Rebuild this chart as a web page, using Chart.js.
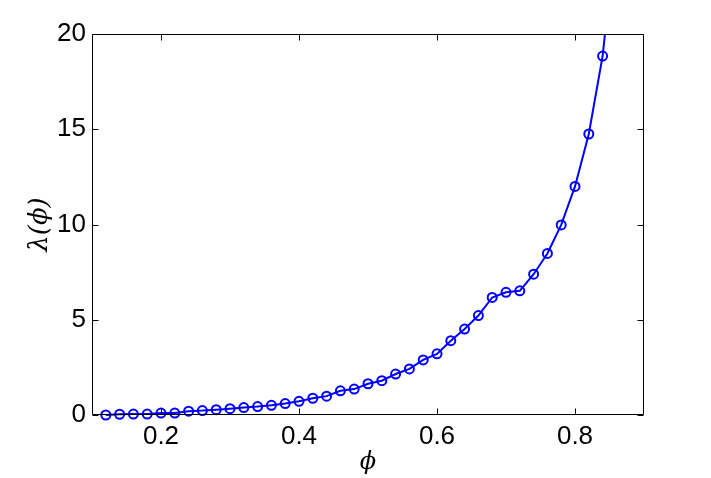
<!DOCTYPE html>
<html>
<head>
<meta charset="utf-8">
<script src="https://cdn.jsdelivr.net/npm/chart.js@4"></script>
<style>
html,body{margin:0;padding:0;background:#fff;}
canvas{display:block;}
</style>
</head>
<body>
<canvas id="c" width="711" height="478"></canvas>
<script>
// ---- data ----
const phiValues = [0.12,0.14,0.16,0.18,0.20,0.22,0.24,0.26,0.28,0.30,0.32,0.34,0.36,0.38,0.40,0.42,0.44,0.46,0.48,0.50,0.52,0.54,0.56,0.58,0.60,0.62,0.64,0.66,0.68,0.70,0.72,0.74,0.76,0.78,0.80,0.82,0.84,0.86];
const lambdaValues = [0.00,0.04,0.05,0.05,0.10,0.10,0.20,0.23,0.28,0.33,0.39,0.44,0.51,0.60,0.72,0.88,0.99,1.27,1.36,1.64,1.80,2.15,2.42,2.89,3.21,3.90,4.51,5.22,6.17,6.44,6.52,7.39,8.48,9.98,12.00,14.75,18.84,25.6];
const xTickValues = [0.2,0.4,0.6,0.8];
const yTickValues = [0,5,10,15,20];
const xTitle = 'ϕ';
const yTitle = 'λ(ϕ)';

const points = phiValues.map((p,i)=>({x:p,y:lambdaValues[i]}));

const frameTicks = {
  id:'frameTicks',
  afterDatasetsDraw(chart){
    const {ctx, chartArea:a, scales:{x,y}} = chart;
    const L=Math.round(a.left)+0.5, R=Math.round(a.right)-0.5, T=Math.round(a.top)+0.5, B=Math.round(a.bottom)-0.5;
    const tl=6;
    ctx.save();
    ctx.strokeStyle='#000'; ctx.lineWidth=1;
    ctx.beginPath();
    ctx.rect(L,T,R-L,B-T);
    x.ticks.forEach(t=>{
      const px=Math.round(x.getPixelForValue(t.value))+0.5;
      ctx.moveTo(px,B); ctx.lineTo(px,B-tl);
      ctx.moveTo(px,T); ctx.lineTo(px,T+tl);
    });
    y.ticks.forEach(t=>{
      const py=Math.round(y.getPixelForValue(t.value))+0.5;
      ctx.moveTo(L,py); ctx.lineTo(L+tl,py);
      ctx.moveTo(R,py); ctx.lineTo(R-tl,py);
    });
    ctx.stroke();
    ctx.restore();
  }
};

new Chart(document.getElementById('c'),{
  type:'line',
  data:{datasets:[{
    data:points,
    borderColor:'#0000ff',
    borderWidth:2,
    tension:0,
    pointRadius:4.5,
    pointBorderWidth:2,
    pointBackgroundColor:'rgba(0,0,0,0)',
    pointBorderColor:'#0000ff',
    clip:{left:10,right:0,top:0,bottom:10}
  }]},
  options:{
    responsive:false,
    animation:false,
    devicePixelRatio:1,
    layout:{padding:{left:0,right:67,top:34,bottom:0}},
    plugins:{legend:{display:false},tooltip:{enabled:false}},
    scales:{
      x:{
        type:'linear', min:0.1, max:0.9,
        afterFit:s=>{s.height=63;},
        afterBuildTicks:s=>{s.ticks=xTickValues.map(v=>({value:v}));},
        grid:{display:false,drawTicks:false},
        border:{display:false},
        ticks:{color:'#000',font:{family:'Liberation Sans',size:26},padding:6,maxRotation:0,callback:v=>v.toFixed(1)},
        title:{display:true,text:xTitle,color:'#000',font:{family:'DejaVu Serif',style:'italic',size:24,lineHeight:1},padding:{top:0,bottom:3}}
      },
      y:{
        type:'linear', min:0, max:20,
        afterFit:s=>{s.width=92;},
        afterBuildTicks:s=>{s.ticks=yTickValues.map(v=>({value:v}));},
        grid:{display:false,drawTicks:false},
        border:{display:false},
        ticks:{color:'#000',font:{family:'Liberation Sans',size:26},padding:6},
        title:{display:true,text:yTitle,color:'#000',font:{family:'DejaVu Serif',style:'italic',size:26,lineHeight:1},padding:{top:27,bottom:0}}
      }
    }
  },
  plugins:[frameTicks]
});
</script>
</body>
</html>
